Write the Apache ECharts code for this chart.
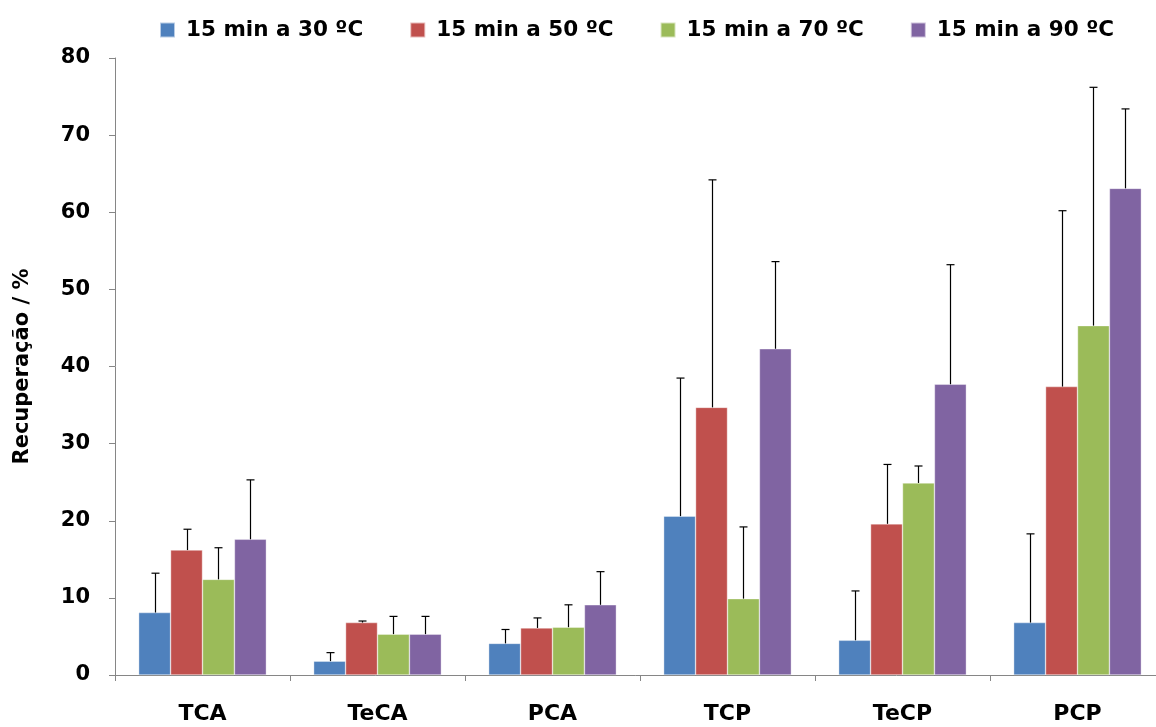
<!DOCTYPE html>
<html>
<head>
<meta charset="utf-8">
<script src="https://cdn.jsdelivr.net/npm/echarts@6/dist/echarts.min.js"></script>
<style>html,body{margin:0;padding:0;background:#fff}#c{width:1156px;height:727px}</style>
</head>
<body>
<div id="c"></div>
<script>
var categories = ['TCA', 'TeCA', 'PCA', 'TCP', 'TeCP', 'PCP'];
var seriesNames = ['15 min a 30 ºC', '15 min a 50 ºC', '15 min a 70 ºC', '15 min a 90 ºC'];
var colors = ['#4F81BD', '#C0504D', '#9BBB59', '#8064A2'];
var v30 = [8.1, 1.8, 4.1, 20.6, 4.5, 6.8];
var v50 = [16.2, 6.8, 6.1, 34.7, 19.6, 37.4];
var v70 = [12.4, 5.3, 6.2, 9.9, 24.9, 45.3];
var v90 = [17.6, 5.3, 9.1, 42.3, 37.7, 63.1];
var e30 = [5.1, 1.1, 1.8, 17.9, 6.4, 11.5];
var e50 = [2.7, 0.2, 1.3, 29.5, 7.7, 22.8];
var e70 = [4.1, 2.3, 2.9, 9.3, 2.2, 30.9];
var e90 = [7.7, 2.3, 4.3, 11.3, 15.5, 10.3];
var yTicks = [0, 10, 20, 30, 40, 50, 60, 70, 80];

var values = [v30, v50, v70, v90];
var errors = [e30, e50, e70, e90];
var catGap = 0.27;
var font = 'DejaVu Sans';

var series = [];
values.forEach(function (vals, k) {
  series.push({
    name: seriesNames[k], type: 'bar', data: vals,
    barGap: '0%', barCategoryGap: (catGap * 100) + '%',
    itemStyle: { color: colors[k], borderColor: 'rgba(255,255,255,0.6)', borderWidth: 0.6 },
    z: 2
  });
});
values.forEach(function (vals, k) {
  series.push({
    name: 'err' + k, type: 'custom', z: 5,
    data: vals.map(function (v, i) { return [i, v, v + errors[k][i]]; }),
    encode: { x: 0, y: [1, 2] },
    renderItem: function (params, api) {
      var i = api.value(0);
      var base = api.coord([i, api.value(1)]);
      var top = api.coord([i, api.value(2)]);
      var band = api.size([1, 0])[0];
      var bw = band * (1 - catGap) / 4;
      var cx = Math.round(base[0] + (k - 1.5) * bw) + 0.5;
      var st = { stroke: '#000', lineWidth: 1.2 };
      return {
        type: 'group', children: [
          { type: 'line', shape: { x1: cx, y1: base[1], x2: cx, y2: top[1] }, style: st },
          { type: 'line', shape: { x1: cx - 4, y1: top[1], x2: cx + 4, y2: top[1] }, style: st }
        ]
      };
    }
  });
});

var chart = echarts.init(document.getElementById('c'));
chart.setOption({
  animation: false,
  backgroundColor: '#fff',
  legend: {
    data: seriesNames, top: 14, left: 154, itemGap: 46,
    icon: 'rect', itemWidth: 15, itemHeight: 15,
    textStyle: { fontFamily: font, fontWeight: 'bold', fontSize: 21.5, color: '#000', padding: [0, 0, 0, 6] }
  },
  grid: { left: 115, right: -9, top: 58, bottom: 52, containLabel: false, outerBoundsMode: 'none' },
  xAxis: {
    type: 'category', data: categories,
    axisLine: { lineStyle: { color: '#868686', width: 1 } },
    axisTick: { show: true, length: 6, lineStyle: { color: '#868686' } },
    axisLabel: { margin: 28, fontFamily: font, fontWeight: 'bold', fontSize: 22, color: '#000' }
  },
  yAxis: {
    type: 'value', min: yTicks[0], max: yTicks[yTicks.length - 1], interval: 10,
    name: 'Recuperação / %', nameLocation: 'middle', nameGap: 82, nameRotate: 90,
    nameTextStyle: { fontFamily: font, fontWeight: 'bold', fontSize: 21, color: '#000' },
    axisLine: { show: true, lineStyle: { color: '#868686', width: 1 } },
    axisTick: { show: true, length: 6, lineStyle: { color: '#868686' } },
    splitLine: { show: false },
    axisLabel: { margin: 25, fontFamily: font, fontWeight: 'bold', fontSize: 21, color: '#000' }
  },
  series: series
});
</script>
</body>
</html>
